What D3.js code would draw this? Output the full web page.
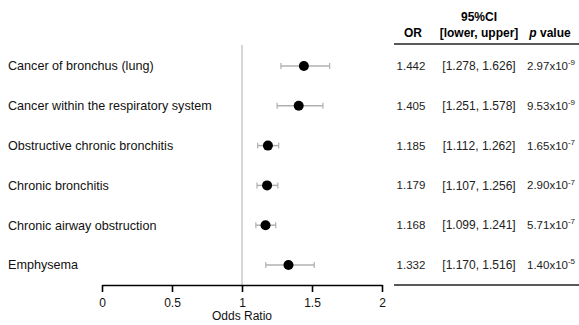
<!DOCTYPE html>
<html><head><meta charset="utf-8">
<script src="https://cdn.jsdelivr.net/npm/d3@7"></script>
<style>body{margin:0;background:#fff}svg{display:block}text{font-family:"Liberation Sans",Arial,sans-serif}</style>
</head><body><svg id="c" width="579" height="325"></svg>
<script>
const categories = ["Cancer of bronchus (lung)","Cancer within the respiratory system","Obstructive chronic bronchitis","Chronic bronchitis","Chronic airway obstruction","Emphysema"];
const orValues = [1.442,1.405,1.185,1.179,1.168,1.332];
const lowerCI = [1.278,1.251,1.112,1.107,1.099,1.170];
const upperCI = [1.626,1.578,1.262,1.256,1.241,1.516];
const pMantissa = ["2.97","9.53","1.65","2.90","5.71","1.40"];
const pExponent = ["-9","-9","-7","-7","-7","-5"];
const xTicks = [0,0.5,1,1.5,2];

const svg = d3.select("#c");
const x = d3.scaleLinear().domain([0,2]).range([102,382]);
const y = d3.scalePoint().domain(categories).range([66,265]);
const axisY = 285;

// reference line
svg.append("line").attr("x1",x(1)).attr("x2",x(1)).attr("y1",45).attr("y2",axisY)
  .attr("stroke","#c8c8c8").attr("stroke-width",1.5);

// labels
svg.append("g").selectAll("text").data(categories).join("text")
  .attr("x",8).attr("y",d=>y(d)).attr("dy","0.35em").attr("font-size",12.6).attr("fill","#111").text(d=>d);

// error bars
const g = svg.append("g");
categories.forEach((c,i)=>{
  const yy = y(c);
  g.append("line").attr("x1",x(lowerCI[i])).attr("x2",x(upperCI[i])).attr("y1",yy).attr("y2",yy).attr("stroke","#b0b0b0").attr("stroke-width",1.5);
  [lowerCI[i],upperCI[i]].forEach(v=>g.append("line").attr("x1",x(v)).attr("x2",x(v)).attr("y1",yy-3).attr("y2",yy+3).attr("stroke","#b0b0b0").attr("stroke-width",1.2));
  g.append("circle").attr("cx",x(orValues[i])).attr("cy",yy).attr("r",5).attr("fill","#000");
});

// axis
const ax = svg.append("g").attr("transform",`translate(0,${axisY})`)
  .call(d3.axisBottom(x).tickValues(xTicks).tickSize(7).tickSizeOuter(0).tickFormat(d3.format("~g")));
ax.select(".domain").attr("stroke","#000").attr("stroke-width",1.6);
ax.selectAll(".tick line").attr("stroke","#000").attr("stroke-width",1.6);
ax.selectAll(".tick text").attr("font-size",12).attr("fill","#111").attr("dy","0.35em").attr("y",18).style("font-family","Liberation Sans, Arial, sans-serif");
svg.append("text").attr("x",x(1)).attr("y",320).attr("text-anchor","middle").attr("font-size",12).attr("fill","#111").text("Odds Ratio");

// table
const colOR = 411, colCI = 479, colP = 552;
svg.append("text").attr("x",colOR+2).attr("y",37).attr("text-anchor","middle").attr("font-size",12).attr("font-weight","bold").text("OR");
svg.append("text").attr("x",colCI).attr("y",21).attr("text-anchor","middle").attr("font-size",12).attr("font-weight","bold").text("95%CI");
svg.append("text").attr("x",colCI).attr("y",37).attr("text-anchor","middle").attr("font-size",12).attr("font-weight","bold").text("[lower, upper]");
const ph = svg.append("text").attr("x",colP-2).attr("y",37).attr("text-anchor","middle").attr("font-size",12).attr("font-weight","bold");
ph.append("tspan").attr("font-style","italic").text("p");
ph.append("tspan").text(" value");
svg.append("line").attr("x1",394).attr("x2",579).attr("y1",44).attr("y2",44).attr("stroke","#222").attr("stroke-width",1.6);
svg.append("line").attr("x1",394).attr("x2",579).attr("y1",285).attr("y2",285).attr("stroke","#222").attr("stroke-width",1.6);

categories.forEach((c,i)=>{
  const yy = y(c);
  svg.append("text").attr("x",colOR).attr("y",yy).attr("dy","0.35em").attr("text-anchor","middle").attr("font-size",11.5).attr("fill","#222").text(orValues[i].toFixed(3));
  svg.append("text").attr("x",colCI).attr("y",yy).attr("dy","0.35em").attr("text-anchor","middle").attr("font-size",12).attr("fill","#222")
    .text(`[${lowerCI[i].toFixed(3)}, ${upperCI[i].toFixed(3)}]`);
  const t = svg.append("text").attr("x",527).attr("y",yy).attr("dy","0.35em").attr("font-size",11.5).attr("fill","#222");
  t.append("tspan").text(pMantissa[i]+"x10");
  t.append("tspan").attr("font-size",8).attr("dy","-0.6em").text(pExponent[i]);
});
</script></body></html>
